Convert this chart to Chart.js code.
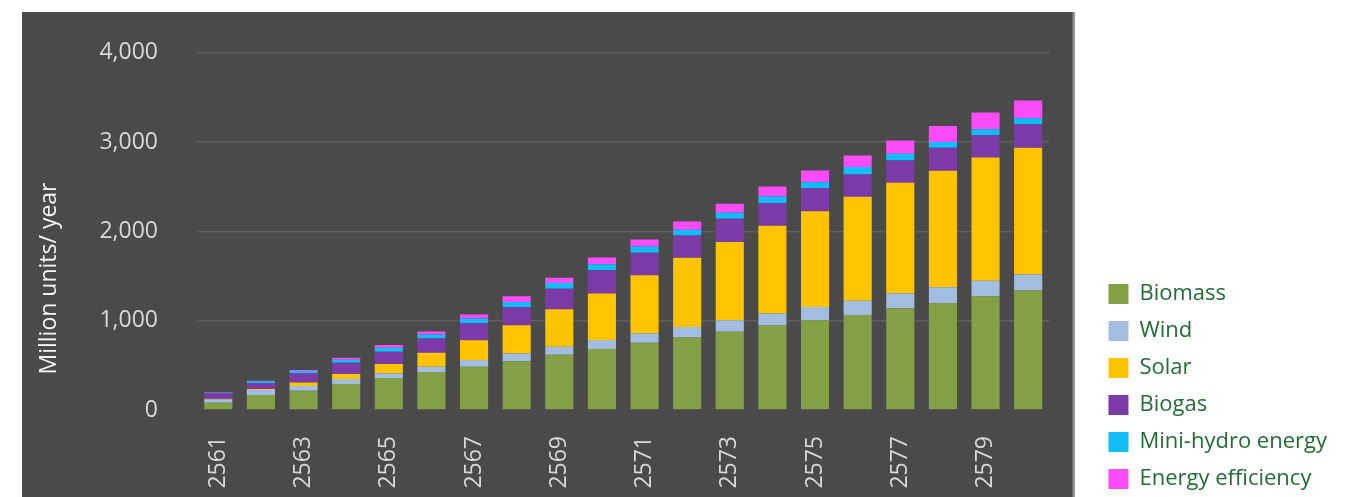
<!DOCTYPE html>
<html>
<head>
<meta charset="utf-8">
<script src="https://cdn.jsdelivr.net/npm/chart.js@4.4.1/dist/chart.umd.min.js"></script>
<style>
html, body { margin: 0; padding: 0; background: #fff; }
</style>
</head>
<body>
<canvas id="units" width="1359" height="497"></canvas>
<script>
var years = ['2561','2562','2563','2564','2565','2566','2567','2568','2569','2570',
             '2571','2572','2573','2574','2575','2576','2577','2578','2579','2580'];

var biomass = [82, 168, 216, 291, 358, 425, 484, 547, 618, 682, 752, 812, 875, 946, 1006, 1065, 1140, 1199, 1274, 1337];
var wind    = [38, 56, 52, 56, 52, 59, 75, 86, 89, 101, 105, 118, 131, 135, 147, 158, 165, 175, 172, 180];
var solar   = [5, 10, 41, 56, 104, 156, 223, 316, 421, 522, 651, 775, 875, 983, 1073, 1165, 1240, 1304, 1382, 1419];
var biogas  = [59, 67, 101, 126, 137, 161, 193, 204, 231, 260, 254, 249, 261, 253, 261, 250, 249, 260, 249, 264];
var hydro   = [8, 22, 26, 35, 45, 45, 49, 56, 63, 67, 70, 64, 67, 75, 63, 82, 75, 63, 67, 67];
var effic   = [8, 5, 11, 21, 33, 33, 45, 64, 60, 75, 78, 93, 101, 112, 131, 131, 149, 179, 187, 198];

var yTicks = [0, 1000, 2000, 3000, 4000];

// dark panel behind the plot, like the original slide
var panelBg = {
  id: 'panelBg',
  beforeDraw: function (chart) {
    var ctx = chart.ctx, a = chart.chartArea;
    ctx.save();
    ctx.fillStyle = '#4a4a4a';
    ctx.fillRect(22, 12, a.right + 25 - 22, chart.height - 12);
    ctx.fillStyle = '#8a8a8a';
    ctx.fillRect(a.right + 23, 12, 2, chart.height - 12);
    ctx.restore();
  }
};

function ds(label, data, color) {
  return { label: label, data: data, backgroundColor: color, borderWidth: 0, stack: 's' };
}

var ctx = document.getElementById('units').getContext('2d');
var unitsChart = new Chart(ctx, {
  type: 'bar',
  data: {
    labels: years,
    datasets: [
      ds('Biomass', biomass, '#84a047'),
      ds('Wind', wind, '#a3bde0'),
      ds('Solar', solar, '#ffc400'),
      ds('Biogas', biogas, '#7b3aa8'),
      ds('Mini-hydro energy', hydro, '#10bef5'),
      ds('Energy efficiency', effic, '#fb4cf9')
    ]
  },
  plugins: [panelBg],
  options: {
    responsive: false,
    animation: false,
    locale: 'en-US',
    layout: { padding: { left: 22, top: 52, right: 22, bottom: -8 } },
    datasets: { bar: { barPercentage: 0.66, categoryPercentage: 1 } },
    plugins: {
      tooltip: { enabled: false },
      title: {
        display: true,
        position: 'left',
        text: 'Million units/ year',
        color: '#f4f4f4',
        font: { family: 'Open Sans', size: 23, weight: 'normal' },
        padding: { top: 14, bottom: 0 }
      },
      legend: {
        position: 'right',
        align: 'end',
        maxWidth: 280,
        labels: {
          boxWidth: 20,
          boxHeight: 20,
          padding: 15,
          color: '#246b36',
          font: { family: 'Open Sans', size: 22 }
        }
      }
    },
    scales: {
      x: {
        stacked: true,
        grid: { display: false, drawTicks: false },
        border: { display: false },
        ticks: {
          autoSkip: false,
          minRotation: 90,
          maxRotation: 90,
          padding: 26,
          color: '#d9d9d9',
          font: { family: 'Open Sans', size: 23 },
          callback: function (v, i) { return i % 2 === 0 ? years[i] : ''; }
        },
        afterFit: function (s) { s.height = 95; }
      },
      y: {
        stacked: true,
        min: 0,
        max: 4000,
        afterBuildTicks: function (s) { s.ticks = yTicks.map(function (v) { return { value: v }; }); },
        grid: {
          drawTicks: false,
          lineWidth: 1.5,
          color: function (c) { return c.tick && c.tick.value === 0 ? 'rgba(0,0,0,0)' : '#5f5f5f'; }
        },
        border: { display: false },
        ticks: {
          padding: 39,
          color: '#d9d9d9',
          font: { family: 'Open Sans', size: 23 }
        },
        afterFit: function (s) { s.width = 133.4; }
      },
      gap: {
        position: 'right',
        display: true,
        grid: { display: false, drawTicks: false },
        border: { display: false },
        ticks: { display: false },
        afterFit: function (s) { s.width = 44; }
      }
    }
  }
});
</script>
</body>
</html>
